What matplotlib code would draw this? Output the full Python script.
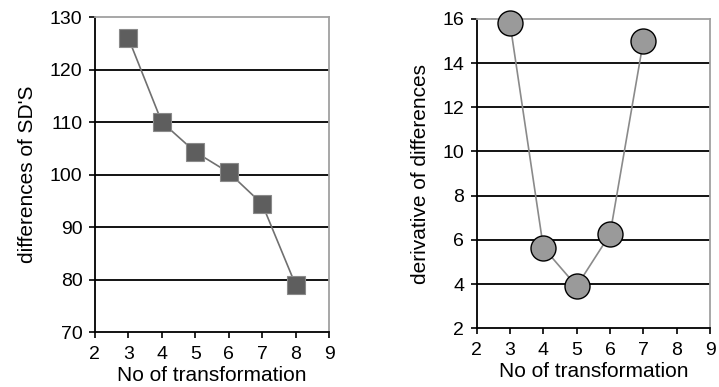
import matplotlib
matplotlib.use("Agg")
import matplotlib.pyplot as plt

plt.rcParams['font.family'] = ['Liberation Sans', 'DejaVu Sans']

# left panel data
x_sd = [3, 4, 5, 6, 7, 8]
sd_diff = [126, 110, 104.3, 100.4, 94.4, 79]

# right panel data
x_der = [3, 4, 5, 6, 7]
derivative = [15.8, 5.65, 3.9, 6.25, 15.0]

fig = plt.figure(figsize=(7.19, 3.87), dpi=100)
ax1 = fig.add_axes([0.132, 0.142, 0.3256, 0.814])
ax2 = fig.add_axes([0.663, 0.152, 0.3245, 0.799])


def style_axes(ax, yticks):
    ax.set_xlim(2, 9)
    ax.set_xticks(range(2, 10))
    ax.set_ylim(yticks[0], yticks[-1])
    ax.set_yticks(yticks)
    for y in yticks[1:-1]:
        ax.axhline(y, color='black', lw=1.3, zorder=1)
    for s in ['left', 'bottom']:
        ax.spines[s].set_color('black')
        ax.spines[s].set_linewidth(1.3)
    for s in ['top', 'right']:
        ax.spines[s].set_color('#a0a0a0')
        ax.spines[s].set_linewidth(1.3)
    ax.tick_params(direction='out', length=4, width=1.2, labelsize=14,
                   colors='black', pad=5)
    ax.tick_params(axis='x', pad=6)
    ax.set_xlabel('No of transformation', fontsize=15, labelpad=2)


style_axes(ax1, list(range(70, 131, 10)))
ax1.plot(x_sd, sd_diff, color='#707070', lw=1.2, zorder=2)
ax1.plot(x_sd, sd_diff, ls='none', marker='s', ms=13, mfc='#5e5e5e',
         mec='#8a8a8a', mew=0.8, zorder=3, clip_on=False)
ax1.set_ylabel("differences of SD'S", fontsize=15, labelpad=9)

style_axes(ax2, list(range(2, 17, 2)))
ax2.plot(x_der, derivative, color='#8a8a8a', lw=1.2, zorder=2)
ax2.plot(x_der, derivative, ls='none', marker='o', ms=18, mfc='#9a9a9a',
         mec='black', mew=1.0, zorder=3, clip_on=False)
ax2.set_ylabel('derivative of differences', fontsize=15, labelpad=9)

fig.savefig('out.png', dpi=100)
